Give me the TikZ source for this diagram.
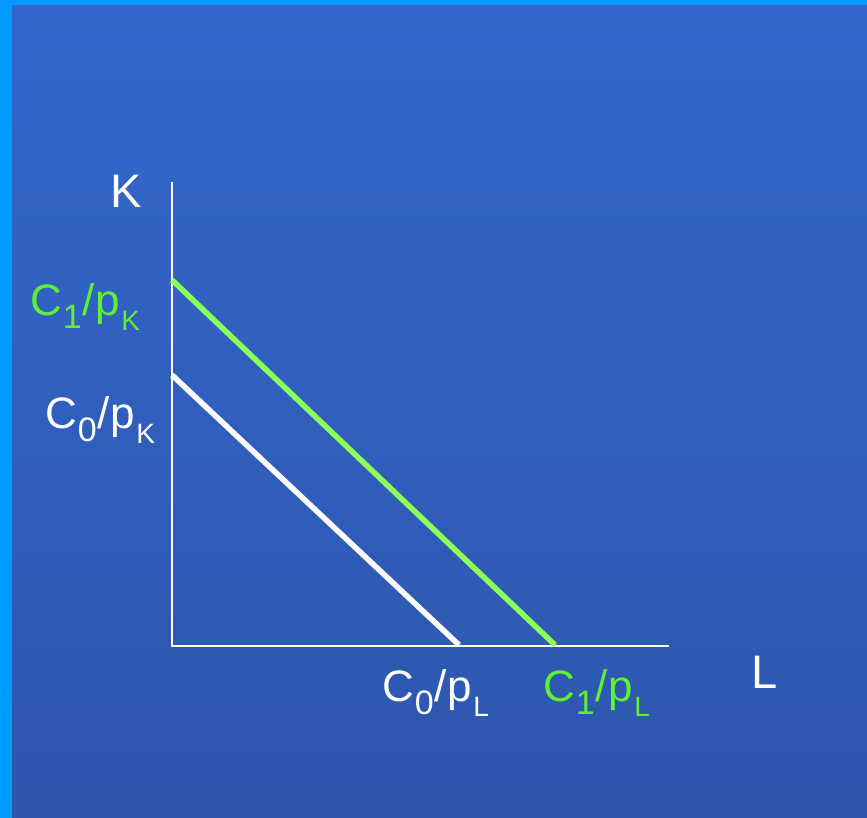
\documentclass[tikz,border=0pt]{standalone}
\usepackage{fontspec}
\setmainfont{Liberation Sans}
\definecolor{frame}{HTML}{0099FF}
\definecolor{bgtop}{HTML}{3367CD}
\definecolor{bgbot}{HTML}{2D56AC}
\definecolor{gline}{HTML}{8CFF5A}
\definecolor{gtext}{HTML}{5FF033}
\newcommand{\mainsz}{\fontsize{44}{44}\selectfont}
\newcommand{\digsub}[1]{\raisebox{-13pt}{\fontsize{34}{34}\selectfont #1}}
\newcommand{\letsub}[1]{\raisebox{-15pt}{\fontsize{28}{28}\selectfont #1}}
\newcommand{\costlab}[3]{\mainsz C\kern1pt\digsub{#1}\kern1pt/\kern1pt p\kern1pt\letsub{#2}}
\begin{document}
\begin{tikzpicture}[x=1pt,y=-1pt,
  lab/.style={inner sep=0pt,outer sep=0pt,anchor=base west,font=\mainsz},
  axis/.style={white,line width=2pt},
  budget/.style={line width=5.5pt}]
\useasboundingbox (0,0) rectangle (867,818);
\fill[frame] (0,0) rectangle (867,818);
\shade[top color=bgtop,bottom color=bgbot] (12,6) rectangle (867,818);
% axes
\coordinate (O) at (172,646);
\coordinate (Ytop) at (172,182);
\coordinate (Xend) at (669,646);
\draw[axis] (Ytop) -- (O) -- (Xend);
% budget lines
\coordinate (g0) at (172,280);
\coordinate (g1) at (555,645);
\coordinate (w0) at (172,375);
\coordinate (w1) at (459,645);
\draw[budget,gline] (g0) -- (g1);
\draw[budget,white] (w0) -- (w1);
% labels
\node[lab,white,font=\fontsize{47}{47}\selectfont] (K) at (110,208) {K};
\node[lab,white,font=\fontsize{47}{47}\selectfont] (L) at (751,688) {L};
\node[lab,gtext] (c1k) at (30,316) {\costlab{1}{K}{}};
\node[lab,white] (c0k) at (45,428) {\costlab{0}{K}{}};
\node[lab,white] (c0l) at (382,701) {\costlab{0}{L}{}};
\node[lab,gtext] (c1l) at (543,701) {\costlab{1}{L}{}};
\end{tikzpicture}
\end{document}
